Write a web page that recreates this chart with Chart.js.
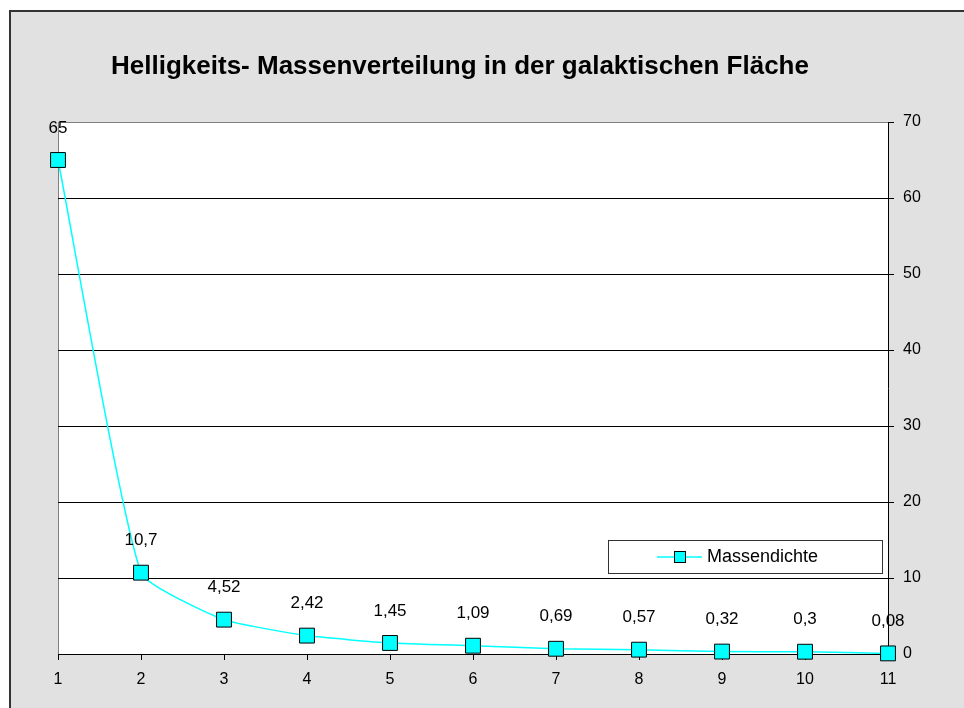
<!DOCTYPE html>
<html>
<head>
<meta charset="utf-8">
<script src="https://cdn.jsdelivr.net/npm/chart.js@4"></script>
<style>
    html, body { margin: 0; padding: 0; background: #fff; }
    #wrap { position: relative; width: 964px; height: 708px; overflow: hidden; }
    #frame {
        position: absolute; left: 9px; top: 10px; width: 1000px; height: 750px;
        background: #e1e1e1; border-left: 2px solid #333; border-top: 2px solid #333;
    }
    canvas { position: absolute; left: 0; top: 0; }
</style>
</head>
<body>
<div id="wrap">
    <div id="frame"></div>
    <canvas id="chart" width="964" height="708"></canvas>
</div>
<script>
// Daten
const categories = ['1', '2', '3', '4', '5', '6', '7', '8', '9', '10', '11'];
const massendichte = [65, 10.7, 4.52, 2.42, 1.45, 1.09, 0.69, 0.57, 0.32, 0.3, 0.08];
const yTicks = [0, 10, 20, 30, 40, 50, 60, 70];
const titleText = 'Helligkeits- Massenverteilung in der galaktischen Fläche';
const seriesName = 'Massendichte';

const FONT = '"Liberation Sans", Arial, sans-serif';

// weisse Zeichenfläche + graue Ränder
const plotBg = {
    id: 'plotBg',
    beforeDraw(chart) {
        const { ctx, chartArea: a } = chart;
        ctx.save();
        ctx.fillStyle = '#fff';
        ctx.fillRect(a.left, a.top, a.right - a.left, a.bottom - a.top);
        ctx.strokeStyle = '#808080';
        ctx.lineWidth = 1;
        ctx.beginPath();
        ctx.moveTo(a.left + 0.5, a.bottom);
        ctx.lineTo(a.left + 0.5, a.top);
        ctx.stroke();
        ctx.restore();
    },
    afterDraw(chart) {
        const { ctx } = chart;
        ctx.save();
        ctx.fillStyle = '#000';
        ctx.font = 'bold 26px ' + FONT;
        ctx.textAlign = 'center';
        ctx.textBaseline = 'middle';
        ctx.fillText(titleText, 460, 67);
        ctx.restore();
    }
};

// Datenbeschriftung
const valueLabels = {
    id: 'valueLabels',
    afterDatasetsDraw(chart) {
        const { ctx } = chart;
        const meta = chart.getDatasetMeta(0);
        ctx.save();
        ctx.fillStyle = '#000';
        ctx.font = '17px ' + FONT;
        ctx.textAlign = 'center';
        ctx.textBaseline = 'middle';
        meta.data.forEach((pt, i) => {
            const txt = String(massendichte[i]).replace('.', ',');
            ctx.fillText(txt, pt.x, pt.y - 32);
        });
        ctx.restore();
    }
};

// Legende im Diagramm
const boxLegend = {
    id: 'boxLegend',
    afterDraw(chart) {
        const { ctx } = chart;
        const x = 608, y = 540, w = 274, h = 33;
        ctx.save();
        ctx.fillStyle = '#fff';
        ctx.fillRect(x, y, w, h);
        ctx.strokeStyle = '#333';
        ctx.lineWidth = 1;
        ctx.strokeRect(x + 0.5, y + 0.5, w, h);
        const cy = y + h / 2 + 0.5;
        ctx.strokeStyle = '#00ffff';
        ctx.lineWidth = 1.5;
        ctx.beginPath();
        ctx.moveTo(657, cy);
        ctx.lineTo(702, cy);
        ctx.stroke();
        ctx.fillStyle = '#00ffff';
        ctx.fillRect(674, cy - 6, 12, 12);
        ctx.strokeStyle = '#000';
        ctx.lineWidth = 1;
        ctx.strokeRect(674.5, cy - 5.5, 11, 11);
        ctx.fillStyle = '#000';
        ctx.font = '18px ' + FONT;
        ctx.textAlign = 'left';
        ctx.textBaseline = 'middle';
        ctx.fillText(seriesName, 707, cy);
        ctx.restore();
    }
};

new Chart(document.getElementById('chart'), {
    type: 'line',
    data: {
        labels: categories,
        datasets: [{
            label: seriesName,
            data: massendichte,
            borderColor: '#00ffff',
            borderWidth: 1.5,
            backgroundColor: '#00ffff',
            pointStyle: 'rect',
            pointRadius: 10.5,
            pointHoverRadius: 10.5,
            pointBackgroundColor: '#00ffff',
            pointBorderColor: '#000',
            pointBorderWidth: 1,
            tension: 0.15,
            clip: false
        }]
    },
    options: {
        responsive: false,
        animation: false,
        events: [],
        layout: { padding: { left: 58, top: 122, right: 16, bottom: 14 } },
        plugins: {
            legend: { display: false },
            title: { display: false },
            tooltip: { enabled: false }
        },
        scales: {
            x: {
                offset: false,
                afterFit: (s) => { s.height = 40; },
                grid: {
                    drawOnChartArea: false,
                    drawTicks: true,
                    tickLength: 6,
                    color: '#000'
                },
                border: { display: true, color: '#000', width: 1 },
                ticks: {
                    color: '#000',
                    font: { family: FONT, size: 16 },
                    padding: 10,
                    maxRotation: 0
                }
            },
            y: {
                position: 'right',
                min: 0,
                max: 70,
                afterFit: (s) => { s.width = 60; },
                afterBuildTicks: (s) => { s.ticks = yTicks.map(v => ({ value: v })); },
                grid: {
                    color: (c) => c.tick && c.tick.value === 70 ? '#808080' : '#000',
                    tickColor: '#000',
                    tickLength: 6,
                    lineWidth: 1
                },
                border: { display: true, color: '#000', width: 1 },
                ticks: {
                    color: '#000',
                    font: { family: FONT, size: 16 },
                    padding: 9
                }
            }
        }
    },
    plugins: [plotBg, valueLabels, boxLegend]
});
</script>
</body>
</html>
